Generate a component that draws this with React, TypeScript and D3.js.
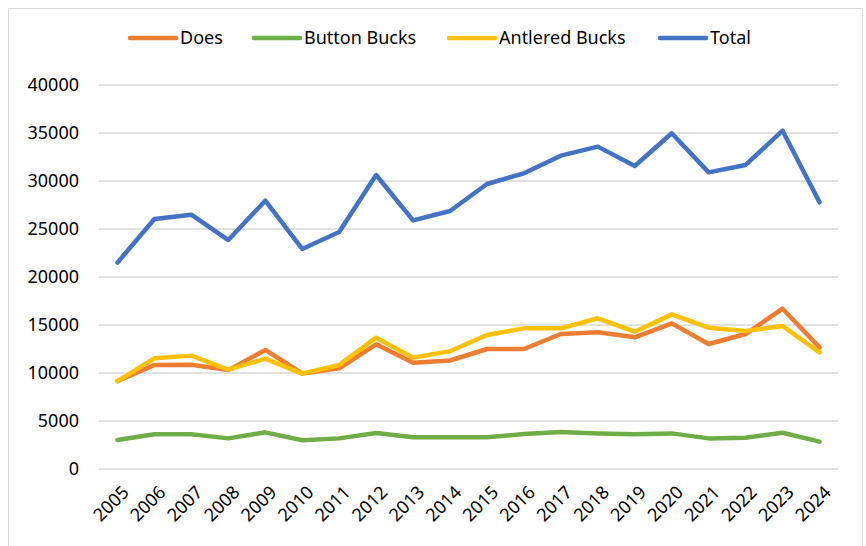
import React from 'react';
import * as d3 from 'd3';

const years = ['2005', '2006', '2007', '2008', '2009', '2010', '2011', '2012', '2013', '2014',
  '2015', '2016', '2017', '2018', '2019', '2020', '2021', '2022', '2023', '2024'];

const does = [9150, 10830, 10850, 10300, 12400, 9950, 10480, 12990, 11080, 11300,
  12500, 12500, 14060, 14240, 13720, 15170, 13020, 14060, 16700, 12670];
const buttonBucks = [3020, 3610, 3610, 3190, 3820, 2990, 3190, 3750, 3300, 3300,
  3300, 3650, 3850, 3710, 3610, 3710, 3190, 3260, 3780, 2850];
const antleredBucks = [9150, 11530, 11810, 10350, 11490, 9930, 10830, 13680, 11600, 12260,
  13960, 14650, 14650, 15700, 14300, 16110, 14720, 14380, 14900, 12150];
const total = [21500, 26040, 26490, 23850, 27950, 22920, 24690, 30625, 25900, 26875,
  29690, 30800, 32640, 33580, 31560, 34970, 30900, 31670, 35240, 27780];

const yTicks = [0, 5000, 10000, 15000, 20000, 25000, 30000, 35000, 40000];

const series = [
  { name: 'Does', values: does, color: '#ED7D31' },
  { name: 'Button Bucks', values: buttonBucks, color: '#70AD47' },
  { name: 'Antlered Bucks', values: antleredBucks, color: '#FFC000' },
  { name: 'Total', values: total, color: '#4472C4' },
];

// legend x positions (line start)
const legendX = [128, 252, 447, 658];

const W = 866;
const H = 546;
const margin = { top: 85, right: 28, bottom: 77, left: 99 };
const font = '"Noto Sans", "Open Sans", sans-serif';

export default function App() {
  const innerW = W - margin.left - margin.right;
  const innerH = H - margin.top - margin.bottom;

  const x = d3.scaleBand().domain(years).range([0, innerW]);
  const y = d3.scaleLinear().domain([0, 40000]).range([innerH, 0]);

  const line = d3.line<number>()
    .x((_, i) => (x(years[i]) || 0) + x.bandwidth() / 2)
    .y(d => y(d));

  return (
    <svg width={W} height={H} style={{ position: 'absolute', left: 0, top: 0, background: '#fff' }}
      fontFamily={font}>
      <rect x={8.5} y={8.5} width={854} height={H} fill="#fff" stroke="#d9d9d9" strokeWidth={1} />

      {/* legend */}
      <g>
        {series.map((s, i) => (
          <g key={s.name} transform={`translate(${legendX[i]},38)`}>
            <line x1={2} x2={48} y1={0} y2={0} stroke={s.color} strokeWidth={4.5} strokeLinecap="round" />
            <text x={52} y={0} dy="0.35em" fontSize={18} fill="#000">{s.name}</text>
          </g>
        ))}
      </g>

      <g transform={`translate(${margin.left},${margin.top})`}>
        {/* gridlines */}
        {yTicks.map(t => (
          <line key={t} x1={0} x2={innerW} y1={y(t)} y2={y(t)} stroke="#d9d9d9" strokeWidth={1.5} />
        ))}
        {/* y labels */}
        {yTicks.map(t => (
          <text key={t} x={-20} y={y(t)} dy="0.35em" textAnchor="end" fontSize={18} fill="#000">{t}</text>
        ))}
        {/* x labels */}
        {years.map(yr => {
          const cx = (x(yr) || 0) + x.bandwidth() / 2;
          return (
            <text key={yr} transform={`translate(${cx + 8},${innerH + 20}) rotate(-45)`}
              textAnchor="end" dy="0.35em" fontSize={18} fill="#000">{yr}</text>
          );
        })}
        {/* lines */}
        {series.map(s => (
          <path key={s.name} d={line(s.values) || ''} fill="none" stroke={s.color} strokeWidth={4.5}
            strokeLinejoin="round" strokeLinecap="round" />
        ))}
      </g>
    </svg>
  );
}
